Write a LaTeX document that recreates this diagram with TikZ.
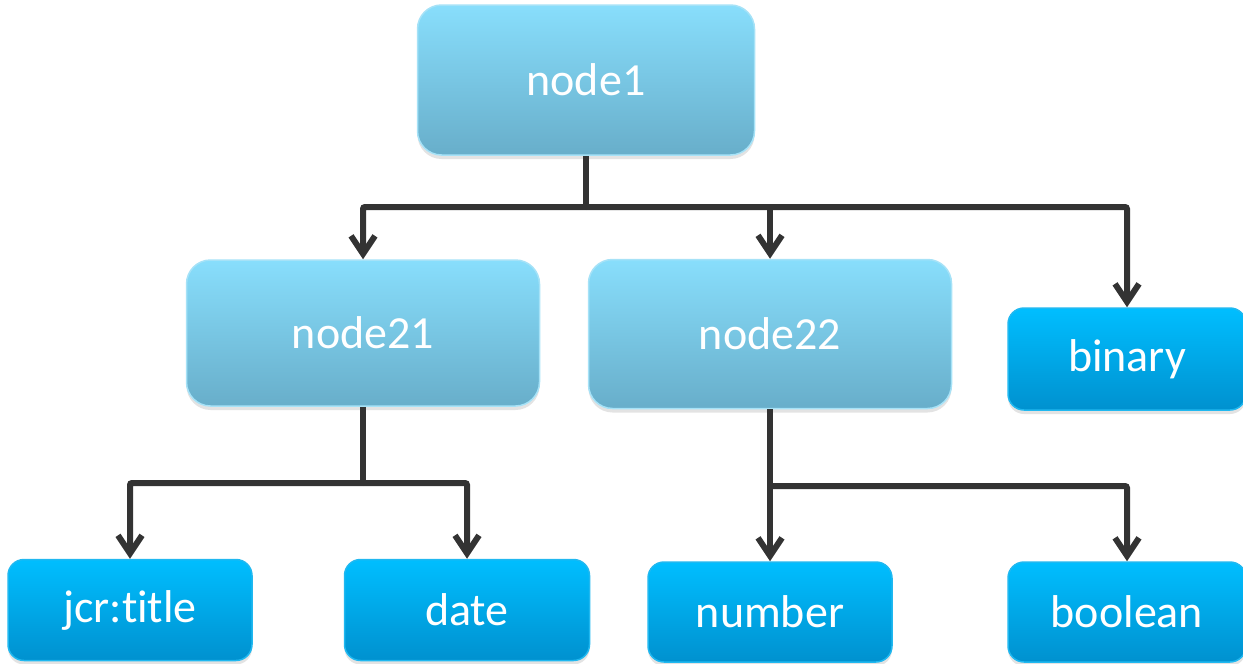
\documentclass[tikz,border=0pt]{standalone}
\usepackage{fontspec}
\setmainfont{Carlito}[Ligatures={NoCommon}]
\usetikzlibrary{arrows.meta,shadows}
\definecolor{upT}{HTML}{88DEFC}
\definecolor{upB}{HTML}{68AECA}
\definecolor{upE}{HTML}{A6E2F7}
\definecolor{lfT}{HTML}{00BEFF}
\definecolor{lfB}{HTML}{0091CF}
\definecolor{lfE}{HTML}{20B8F0}
\definecolor{conn}{HTML}{333333}
\tikzset{
  upper/.style={draw=upE, line width=1.5pt, rounded corners=24pt, top color=upT, bottom color=upB,
    text=white, font=\fontsize{46}{52}\selectfont, inner sep=0pt,
    drop shadow={shadow xshift=0pt, shadow yshift=-4pt, opacity=0.18, fill=black!60}},
  leaf/.style={draw=lfE, line width=1.5pt, rounded corners=16pt, top color=lfT, bottom color=lfB,
    text=white, font=\fontsize{46}{52}\selectfont, inner sep=0pt,
    drop shadow={shadow xshift=0pt, shadow yshift=-4pt, opacity=0.18, fill=black!60}},
  conn/.style={draw=conn, line width=6pt},
  arr/.style={conn, -{Straight Barb[length=18pt,width=24pt,line width=6pt]}}
}
\begin{document}
\begin{tikzpicture}[x=1pt,y=-1pt]
\useasboundingbox (0,0) rectangle (1243,664);
\node[upper, minimum width=337pt, minimum height=150pt] (n1) at (586,80) {node1};
\node[upper, minimum width=353pt, minimum height=146pt] (n21) at (363,333) {node21};
\node[upper, minimum width=363pt, minimum height=149pt] (n22) at (770,334) {node22};
\node[leaf, minimum width=238pt, minimum height=102pt] (bin) at (1127,359) {binary};
\node[leaf, minimum width=244pt, minimum height=101pt] (jcr) at (130,610) {jcr:title};
\node[leaf, minimum width=245pt, minimum height=101pt] (date) at (467,610) {date};
\node[leaf, minimum width=244pt, minimum height=100pt] (num) at (770,612) {number};
\node[leaf, minimum width=238pt, minimum height=100pt] (bool) at (1127,612) {boolean};
\coordinate (j1) at (586,207);
\coordinate (j2) at (363,483);
\coordinate (j3) at (770,486);
\draw[conn] (n1.south) -- (j1);
\draw[arr, rounded corners=2pt] (j1) -| (n21.north);
\draw[arr] (j1 -| n22.north) -- (n22.north);
\draw[arr, rounded corners=2pt] (j1) -| (bin.north);
\draw[conn] (n21.south) -- (j2);
\draw[arr, rounded corners=2pt] (j2) -| (jcr.north);
\draw[arr, rounded corners=2pt] (j2) -| (date.north);
\draw[arr] (n22.south) -- (num.north);
\draw[arr, rounded corners=2pt] (j3) -| (bool.north);
\end{tikzpicture}
\end{document}
